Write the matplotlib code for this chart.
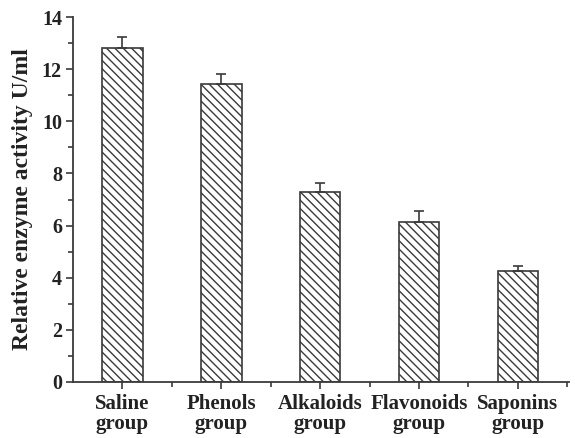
import matplotlib
matplotlib.use("Agg")
import matplotlib.pyplot as plt
from matplotlib.ticker import MultipleLocator, FixedLocator
import numpy as np

groups = ["Saline\ngroup", "Phenols\ngroup", "Alkaloids\ngroup", "Flavonoids\ngroup", "Saponins\ngroup"]
activity = [12.8, 11.45, 7.3, 6.15, 4.27]
sd = [0.45, 0.37, 0.33, 0.41, 0.19]

plt.rcParams["font.family"] = ["Liberation Serif"]
plt.rcParams["font.weight"] = "bold"
plt.rcParams["hatch.linewidth"] = 1.0
plt.rcParams["hatch.color"] = "#3a3a3a"

edge = "#3a3a3a"
text_c = "#222222"
fig = plt.figure(figsize=(5.75, 4.38), dpi=100)
ax = fig.add_axes([0.127, 0.128, 0.863, 0.833])

x = np.arange(1, len(groups) + 1)
ax.bar(x, activity, width=0.41, color="white", edgecolor=edge, linewidth=1.2,
       hatch="\\\\\\\\", zorder=2)
ax.errorbar(x, activity, yerr=[np.zeros(len(sd)), sd], fmt="none",
            ecolor=edge, elinewidth=1.2, capsize=3.8, capthick=1.2, zorder=3)

ax.set_xlim(0.5, 5.52)
ax.set_ylim(0, 14)
ax.spines["top"].set_visible(False)
ax.spines["right"].set_visible(False)
for s in ("left", "bottom"):
    ax.spines[s].set_color(edge)
    ax.spines[s].set_linewidth(1.3)

ax.yaxis.set_major_locator(MultipleLocator(2))
ax.yaxis.set_minor_locator(MultipleLocator(1))
ax.set_xticks(x)
ax.set_xticklabels(groups, fontsize=15, fontweight="bold", linespacing=1.0,
                   color=text_c)
ax.xaxis.set_minor_locator(FixedLocator(np.arange(1.5, 6, 1.0)))
ax.tick_params(axis="both", which="major", length=5, width=1.2, color=edge,
               direction="out")
ax.tick_params(axis="both", which="minor", length=3.5, width=1.2, color=edge,
               direction="out")
ax.tick_params(axis="x", which="major", pad=4)
ax.tick_params(axis="y", labelsize=14.5, labelcolor=text_c, pad=3)
for lab in ax.get_yticklabels():
    lab.set_fontweight("bold")

ax.set_ylabel("Relative enzyme activity U/ml", fontsize=17, fontweight="bold",
              color=text_c, labelpad=6)

fig.savefig("out.png", dpi=100)
